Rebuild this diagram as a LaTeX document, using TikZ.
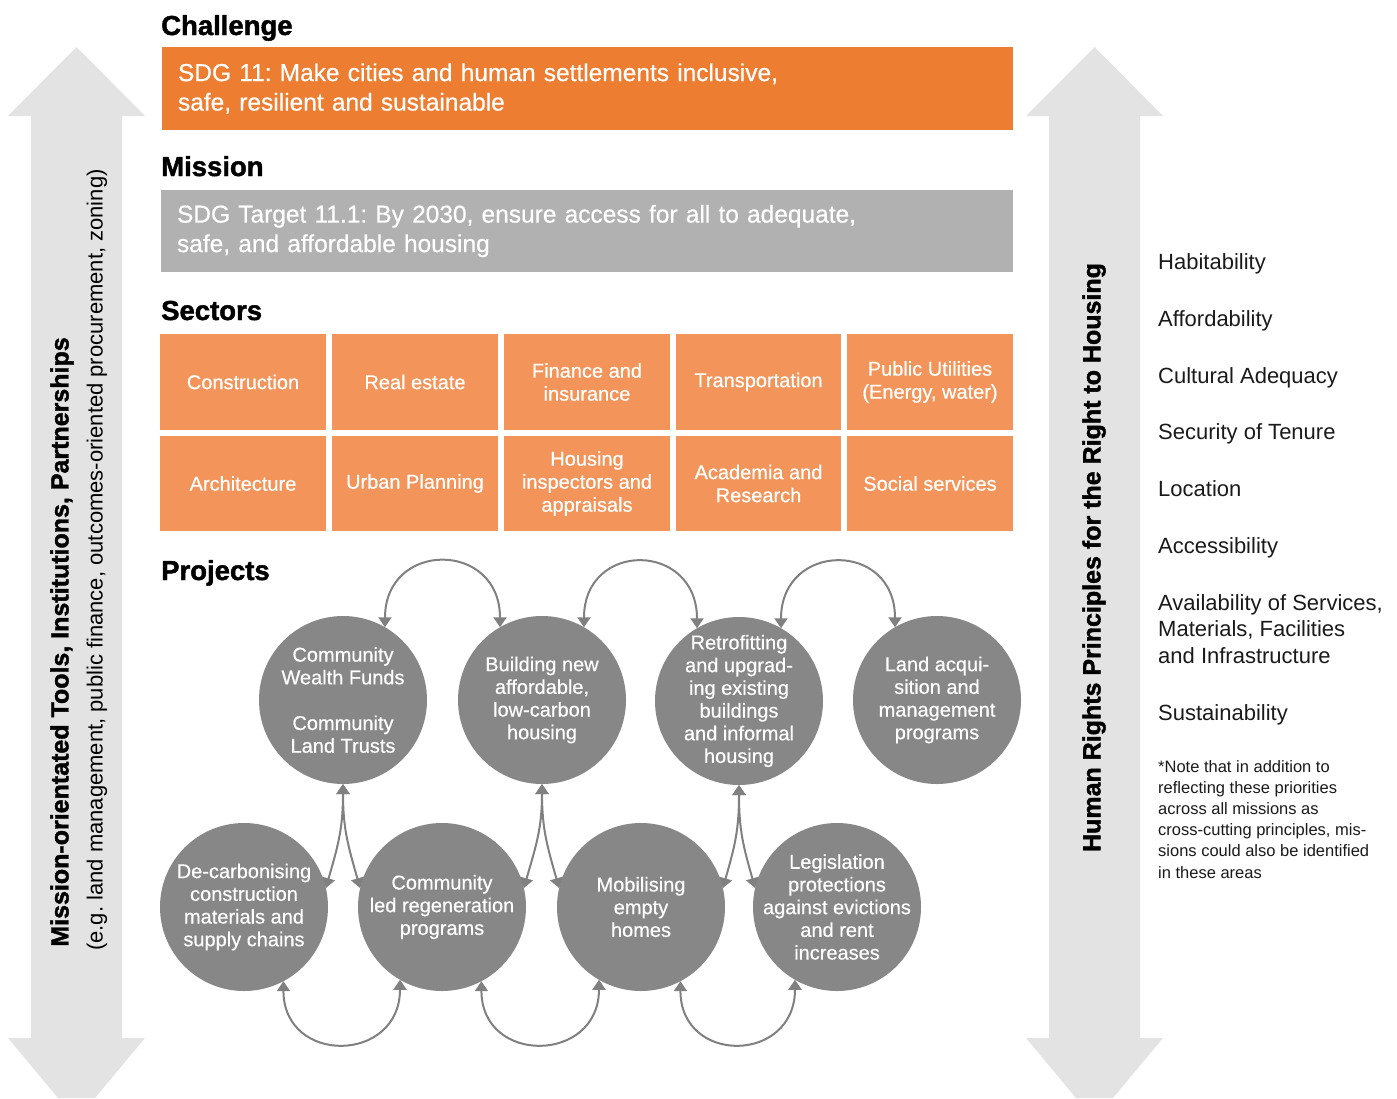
\documentclass[tikz,border=0pt]{standalone}
\usepackage{fontspec}
\setmainfont{Liberation Sans}
\newfontfamily\heavyfont{Liberation Sans}[BoldFeatures={FakeBold=1.6}]
\newfontfamily\medfont{Liberation Sans}[FakeBold=0.5]
\usetikzlibrary{arrows.meta}
\definecolor{challengeC}{HTML}{ED7D31}
\definecolor{missionC}{HTML}{B1B1B1}
\definecolor{sectorC}{HTML}{F3955A}
\definecolor{circC}{HTML}{878787}
\definecolor{arrowC}{HTML}{E3E3E3}
\definecolor{connC}{HTML}{808080}
\definecolor{textC}{HTML}{1A1A1A}
\frenchspacing
\begin{document}
\frenchspacing
\begin{tikzpicture}[x=1pt,y=-1pt,
  heading/.style={anchor=base west, inner sep=0pt, text=black, font=\heavyfont\bfseries\fontsize{27.5}{33}\selectfont},
  bigbox/.style={anchor=north west, inner xsep=16pt, inner ysep=0pt, outer sep=0pt, align=left, text=white, font=\medfont\fontsize{24.5}{29.5}\selectfont},
  sector/.style={fill=sectorC, minimum width=166pt, minimum height=96pt, anchor=north west, inner sep=0pt, outer sep=0pt, align=center, text=white, font=\medfont\fontsize{20}{23}\selectfont},
  proj/.style={circle, fill=circC, minimum size=168pt, inner sep=0pt, outer sep=0pt},
  ptext/.style={align=center, text=white, inner sep=0pt, font=\medfont\fontsize{20}{22.7}\selectfont},
  conn/.style={draw=connC, line width=2pt, {Triangle[width=13pt,length=10pt]}-{Triangle[width=13pt,length=10pt]}},
  listitem/.style={anchor=base west, inner sep=0pt, text=textC, font=\fontsize{22}{26.5}\selectfont},
  vertbold/.style={rotate=90, inner sep=0pt, text=black, font=\heavyfont\bfseries\fontsize{25}{30}\selectfont},
  vertreg/.style={rotate=90, inner sep=0pt, text=black, font=\fontsize{22}{26}\selectfont}
]
\useasboundingbox (0,0) rectangle (1397,1098);

% big side arrows
\fill[arrowC] (76.5,47) -- (145,116) -- (122,116) -- (122,1038) -- (145,1038) -- (95,1098) -- (58,1098) -- (8,1038) -- (31,1038) -- (31,116) -- (8,116) -- cycle;
\fill[arrowC] (1094.5,47) -- (1163,116) -- (1140,116) -- (1140,1038) -- (1163,1038) -- (1113,1098) -- (1076,1098) -- (1026,1038) -- (1049,1038) -- (1049,116) -- (1026,116) -- cycle;

\node[vertbold] (lt1) at (62,642) {Mission-orientated Tools, Institutions, Partnerships};
\node[vertreg] (lt2) at (97,560) {(e.g. land management, public finance, outcomes-oriented procurement, zoning)};
\node[vertbold] (rt1) at (1094,557.5) {Human Rights Principles for the Right to Housing};

% headings
\node[heading] (hC) at (161,35) {Challenge};
\node[heading] (hM) at (161,176) {Mission};
\node[heading] (hS) at (161,320) {Sectors};
\node[heading] (hP) at (161,580) {Projects};

% challenge / mission
\node[bigbox, fill=challengeC, minimum width=851pt, minimum height=83pt, text width=819pt] (chal) at (162,47)
  {SDG 11: Make cities and human settlements inclusive,\\safe, resilient and sustainable};
\node[bigbox, fill=missionC, minimum width=852pt, minimum height=82pt, text width=820pt] (miss) at (161,190)
  {SDG Target 11.1: By 2030, ensure access for all to adequate,\\safe, and affordable housing};

% sectors
\node[sector] (s1) at (160,334) {Construction};
\node[sector] (s2) at (332,334) {Real estate};
\node[sector] (s3) at (504,334) {Finance and\\insurance};
\node[sector, minimum width=165pt] (s4) at (676,334) {Transportation};
\node[sector] (s5) at (847,334) {Public Utilities\\(Energy, water)};
\node[sector, minimum height=95pt] (s6) at (160,436) {Architecture};
\node[sector, minimum height=95pt] (s7) at (332,436) {Urban Planning};
\node[sector, minimum height=95pt] (s8) at (504,436) {Housing\\inspectors and\\appraisals};
\node[sector, minimum height=95pt, minimum width=165pt] (s9) at (676,436) {Academia and\\Research};
\node[sector, minimum height=95pt] (s10) at (847,436) {Social services};

% projects
\node[proj, label={[ptext]center:{Community\\Wealth Funds\\[23pt]Community\\Land Trusts}}] (A1) at (343,700) {};
\node[proj, label={[ptext]center:{Building new\\affordable,\\low-carbon\\housing}}] (A2) at (542,700) {};
\node[proj, label={[ptext]center:{Retrofitting\\and upgrad-\\ing existing\\buildings\\and informal\\housing}}] (A3) at (739,701) {};
\node[proj, label={[ptext]center:{Land acqui-\\sition and\\management\\programs}}] (A4) at (937,700) {};
\node[proj, label={[ptext]center:{De-carbonising\\construction\\materials and\\supply chains}}] (B1) at (244,907) {};
\node[proj, label={[ptext]center:{Community\\led regeneration\\programs}}] (B2) at (442,907) {};
\node[proj, label={[ptext]center:{Mobilising\\empty\\homes}}] (B3) at (641,907) {};
\node[proj, label={[ptext]center:{Legislation\\protections\\against evictions\\and rent\\increases}}] (B4) at (837,907) {};

% connectors top
\draw[conn] (A1.60) .. controls +(0,-87) and +(0,-87) .. (A2.120);
\draw[conn] (A2.60) .. controls +(0,-87) and +(0,-87) .. (A3.120);
\draw[conn] (A3.60) .. controls +(0,-87) and +(0,-87) .. (A4.120);
% connectors bottom
\draw[conn] (B1.-62) .. controls +(0,84) and +(0,84) .. (B2.-120);
\draw[conn] (B2.-62) .. controls +(0,84) and +(0,84) .. (B3.-120);
\draw[conn] (B3.-62) .. controls +(0,84) and +(0,84) .. (B4.-120);
% vertical connectors
\draw[conn] (A1.south) .. controls +(0,45) and +(12,-42) .. (B1.13);
\draw[conn] (A1.south) .. controls +(0,45) and +(-12,-42) .. (B2.167);
\draw[conn] (A2.south) .. controls +(0,45) and +(12,-42) .. (B2.13);
\draw[conn] (A2.south) .. controls +(0,45) and +(-12,-42) .. (B3.167);
\draw[conn] (A3.south) .. controls +(0,45) and +(12,-42) .. (B3.13);
\draw[conn] (A3.south) .. controls +(0,45) and +(-12,-42) .. (B4.167);

% principles list
\node[listitem] (p1) at (1158,269) {Habitability};
\node[listitem] (p2) at (1158,326) {Affordability};
\node[listitem] (p3) at (1158,383) {Cultural Adequacy};
\node[listitem] (p4) at (1158,439) {Security of Tenure};
\node[listitem] (p5) at (1158,496) {Location};
\node[listitem] (p6) at (1158,553) {Accessibility};
\node[listitem] (p7) at (1158,610) {\begin{tabular}[t]{@{}l@{}}Availability of Services,\\Materials, Facilities\\and Infrastructure\end{tabular}};
\node[listitem] (p8) at (1158,720) {Sustainability};
\node[listitem, font=\fontsize{16.5}{21.2}\selectfont] (note) at (1158,772) {\begin{tabular}[t]{@{}l@{}}*Note that in addition to\\reflecting these priorities\\across all missions as\\cross-cutting principles, mis-\\sions could also be identified\\in these areas\end{tabular}};
\end{tikzpicture}
\end{document}
